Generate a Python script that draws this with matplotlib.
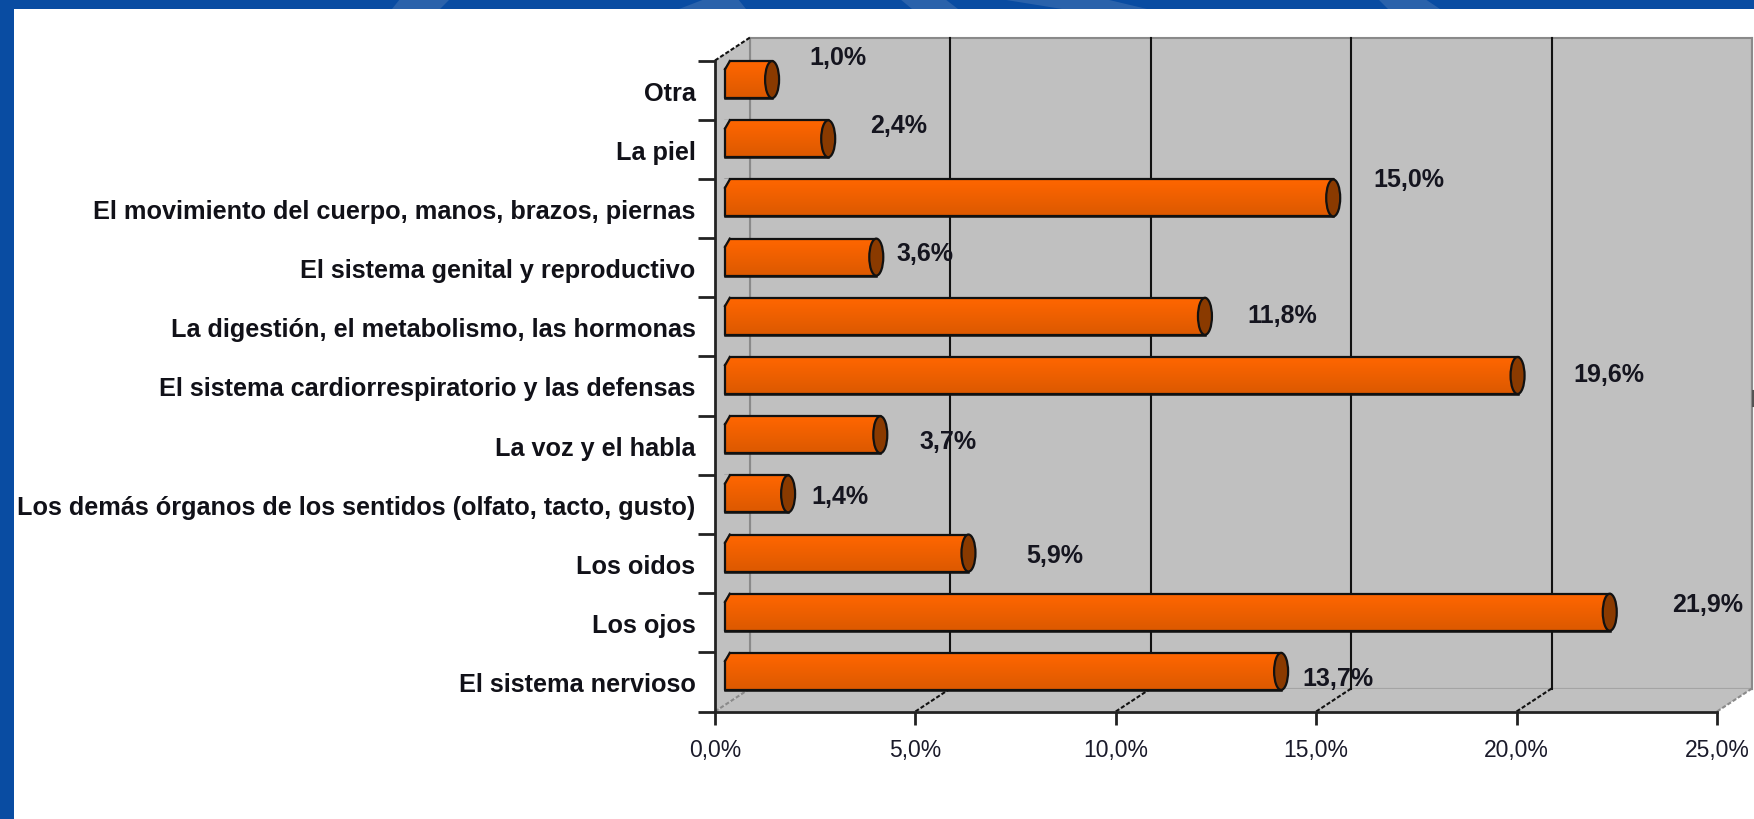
import numpy as np
import matplotlib
matplotlib.use('Agg')
import matplotlib.pyplot as plt
from matplotlib.patches import Ellipse, Polygon, Rectangle
from matplotlib.transforms import ScaledTranslation

plt.rcParams['font.family'] = ['Liberation Sans', 'DejaVu Sans']

# de abajo hacia arriba
categorias = ['El sistema nervioso', 'Los ojos', 'Los oidos',
              'Los demás órganos de los sentidos (olfato, tacto, gusto)',
              'La voz y el habla', 'El sistema cardiorrespiratorio y las defensas',
              'La digestión, el metabolismo, las hormonas',
              'El sistema genital y reproductivo',
              'El movimiento del cuerpo, manos, brazos, piernas',
              'La piel', 'Otra']
valores = [13.7, 21.9, 5.9, 1.4, 3.7, 19.6, 11.8, 3.6, 15.0, 2.4, 1.0]
etiquetas = ['13,7%', '21,9%', '5,9%', '1,4%', '3,7%', '19,6%', '11,8%', '3,6%', '15,0%', '2,4%', '1,0%']
ticks_x = [0, 5, 10, 15, 20, 25]
ticks_x_txt = ['0,0%', '5,0%', '10,0%', '15,0%', '20,0%', '25,0%']

# desplazamiento de cada etiqueta en pixeles (dx, dy hacia arriba)
desp_etiquetas = [(74, 4), (115, 19), (103, 9), (69, 8), (85, 4), (108, 12),
                  (94, 12), (66, 15), (93, 29), (87, 24), (83, 33)]

# franjas claras de la banda azul superior, px (arriba izq, arriba der, abajo der, abajo izq)
franjas = [(400, 450, 440, 392), (705, 738, 746, 679), (900, 945, 958, 912),
           (1000, 1105, 1147, 1062), (1378, 1425, 1440, 1388)]

W, H = 1754, 820
AZUL = '#094ca2'
AZUL_CLARO = '#2a62ab'
GRIS = '#c0c0c0'
PROF_X, PROF_Y = 35, 23  # profundidad del falso 3D, px

fig = plt.figure(figsize=(W / 100, H / 100), dpi=100, facecolor='white')

# marco azul
fig.patches.append(Rectangle((0, 1 - 10 / H), 1, 10 / H, transform=fig.transFigure, color=AZUL, lw=0))
fig.patches.append(Rectangle((0, 0), 14 / W, 1, transform=fig.transFigure, color=AZUL, lw=0))
for a, b, c, d in franjas:
    fig.patches.append(Polygon([(a / W, 1), (b / W, 1), (c / W, 1 - 10 / H), (d / W, 1 - 10 / H)],
                               closed=True, transform=fig.transFigure, color=AZUL_CLARO, lw=0))

ax = fig.add_axes([715 / W, 1 - 712.5 / H, (1717 - 715) / W, (712.5 - 61.5) / H])
ax.set_xlim(0, 25)
ax.set_ylim(-0.5, 10.5)
ax.patch.set_alpha(0)


def desplazado(dx, dy):
    return ax.transData + ScaledTranslation(dx / 100, dy / 100, fig.dpi_scale_trans)


fondo = desplazado(PROF_X, PROF_Y)
y0, y1 = ax.get_ylim()

# paredes y piso
ax.add_patch(Rectangle((0, y0), 25, y1 - y0, transform=fondo, fc=GRIS, ec='#8a8a8a', lw=1.5, zorder=1, clip_on=False))
ax.add_patch(Polygon([(0, y0), (25, y0), (25 + PROF_X / 40.08, y0 + PROF_Y / 59.2), (PROF_X / 40.08, y0 + PROF_Y / 59.2)],
                     fc=GRIS, ec='none', zorder=1, clip_on=False))
ax.add_patch(Polygon([(0, y0), (PROF_X / 40.08, y0 + PROF_Y / 59.2), (PROF_X / 40.08, y1 + PROF_Y / 59.2), (0, y1)],
                     fc=GRIS, ec='none', zorder=1, clip_on=False))

# rejilla
for t in ticks_x:
    borde = t in (0, 25)
    c = '#8a8a8a' if borde else '#111111'
    ax.plot([t, t], [y0, y1], transform=fondo, color=c, lw=1.5, zorder=2, clip_on=False)
    ax.plot([t, t + PROF_X / 40.08], [y0, y0 + PROF_Y / 59.2], color=c, lw=1.5, ls=(0, (2, 1)), zorder=2, clip_on=False)
ax.plot([0, PROF_X / 40.08], [y1, y1 + PROF_Y / 59.2], color='#111111', lw=1.5, ls=(0, (2, 1)), zorder=2, clip_on=False)

# marquita oscura en el borde derecho
fig.add_artist(plt.Line2D([1752.7 / W, 1752.7 / W], [1 - 392 / H, 1 - 407 / H], color='#555555', lw=1.5))

# barras cilindricas
barra_tr = desplazado(10, 10.5)
posiciones = np.arange(len(valores))
alto = 0.625
tapa = 7 / 40.08
grad = np.linspace(0, 1, 64).reshape(-1, 1)
cmap = matplotlib.colors.LinearSegmentedColormap.from_list('naranja', ['#ff6600', '#dc5900'])
barras = ax.barh(posiciones, np.array(valores) + tapa, height=alto, left=0, color='#f06000', edgecolor='#111111',
                 linewidth=1.8, transform=barra_tr, zorder=3, clip_on=False)
for y, v, b in zip(posiciones, valores, barras):
    im = ax.imshow(grad, extent=(0, v + tapa, y - alto / 2, y + alto / 2), aspect='auto', cmap=cmap,
                   transform=barra_tr, zorder=3.1, clip_on=False)
    # esquina recortada a la izquierda
    ax.add_patch(Polygon([(-0.03, y + alto / 2 + 0.02), (0.12, y + alto / 2 + 0.02), (-0.03, y + alto / 2 - 0.14)],
                         closed=True, fc=GRIS, ec='none', transform=barra_tr, zorder=3.3, clip_on=False))
    ax.plot([0, 0.12], [y + alto / 2 - 0.14, y + alto / 2], color='#111111', lw=1.6, transform=barra_tr, zorder=3.4, clip_on=False)
    ax.plot([0.12, v + tapa], [y + alto / 2, y + alto / 2], color='#111111', lw=1.6, transform=barra_tr, zorder=3.4, clip_on=False)
    ax.plot([v + tapa, 0, 0], [y - alto / 2, y - alto / 2, y + alto / 2 - 0.14], color='#111111', lw=1.6,
            transform=barra_tr, zorder=3.4, clip_on=False)
    ax.add_patch(Ellipse((v + tapa, y), 14 / 40.08, alto, fc='#8a3a00', ec='#111111', lw=1.6,
                         transform=barra_tr, zorder=3.5, clip_on=False))

ax.set_xlim(0, 25)
ax.set_ylim(y0, y1)

# etiquetas de valor
for y, v, txt, (dx, dy) in zip(posiciones, valores, etiquetas, desp_etiquetas):
    ax.text(v, y, txt, transform=desplazado(dx, dy), ha='center', va='center', fontsize=18, fontweight='bold',
            color='#15151f', zorder=6, clip_on=False)

# ejes
for s in ('top', 'right'):
    ax.spines[s].set_visible(False)
for s in ('left', 'bottom'):
    ax.spines[s].set_linewidth(2)
    ax.spines[s].set_color('#222222')
    ax.spines[s].set_zorder(5)
ax.set_xticks(ticks_x)
ax.set_xticklabels(ticks_x_txt, fontsize=16.5, color='#1a1a2a')
ax.set_yticks(np.arange(-0.5, 11, 1))
ax.set_yticklabels([])
ax.set_yticks(posiciones, minor=True)
ax.set_yticklabels(categorias, minor=True, fontsize=18.2, fontweight='bold', color='#111118')
ax.tick_params(axis='x', length=9, width=2, color='#222222', pad=10)
ax.tick_params(axis='y', which='major', length=12, width=2, color='#222222')
ax.tick_params(axis='y', which='minor', length=0, pad=14)

fig.savefig('out.png', dpi=100)
